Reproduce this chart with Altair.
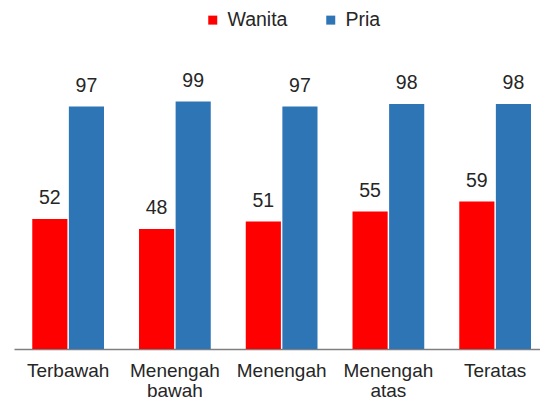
import altair as alt
import pandas as pd

categories = ["Terbawah", "Menengah bawah", "Menengah", "Menengah atas", "Teratas"]
wanita = [52, 48, 51, 55, 59]
pria = [97, 99, 97, 98, 98]
series = ["Wanita", "Pria"]
colors = ["#FF0000", "#2E75B6"]

rows = []
for c, w, p in zip(categories, wanita, pria):
    rows.append({"kategori": c, "gender": "Wanita", "nilai": w})
    rows.append({"kategori": c, "gender": "Pria", "nilai": p})
df = pd.DataFrame(rows)

FONT = "Liberation Sans"
TXT = "#262626"

x_enc = alt.X(
    "kategori:N",
    sort=categories,
    title=None,
    scale=alt.Scale(paddingInner=0.328, paddingOuter=0.1277, align=0.67),
    axis=alt.Axis(
        labelAngle=0,
        ticks=False,
        labelPadding=12,
        labelFontSize=19,
        labelFont=FONT,
        labelColor=TXT,
        labelLineHeight=20,
        labelExpr="split(datum.label, ' ')",
        domainColor="#7f7f7f",
        domainWidth=1.3,
        grid=False,
    ),
)
xoff = alt.XOffset("gender:N", sort=series, scale=alt.Scale(paddingInner=0.04))
y_enc = alt.Y("nilai:Q", scale=alt.Scale(domain=[0, 120], nice=False), axis=None)

base = alt.Chart(df).encode(x=x_enc, xOffset=xoff, y=y_enc)

bars = base.mark_bar().encode(
    color=alt.Color(
        "gender:N",
        sort=series,
        scale=alt.Scale(domain=series, range=colors),
        legend=alt.Legend(
            orient="none",
            legendX=189,
            legendY=-39,
            direction="horizontal",
            title=None,
            symbolType="square",
            symbolSize=81,
            symbolStrokeWidth=0,
            labelFontSize=19.5,
            labelFont=FONT,
            labelColor=TXT,
            labelOffset=5,
            columnPadding=33,
            padding=0,
        ),
    )
)

labels = base.mark_text(
    dy=-15, baseline="alphabetic", fontSize=19.5, font=FONT, color=TXT
).encode(text="nilai:Q")

chart = (
    (bars + labels)
    .properties(
        width=526,
        height=300,
        padding={"left": 6, "top": 41, "right": 0, "bottom": 51},
        autosize=alt.AutoSizeParams(type="none"),
    )
    .configure_view(stroke=None)
)

chart.save("out.html", embed_options={"renderer": "svg", "actions": False})
